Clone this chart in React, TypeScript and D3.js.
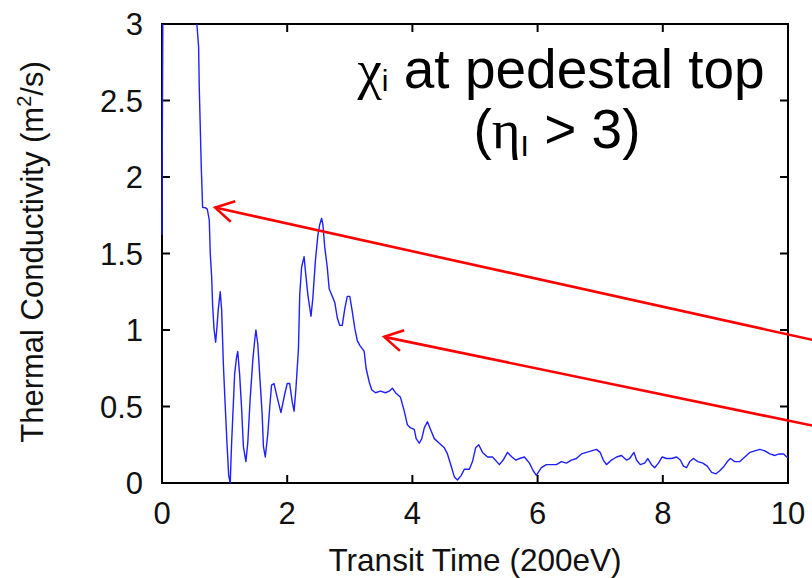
import React from 'react';
import * as d3 from 'd3';

const timeValues = [
  0.0, 0.003, 0.02, 0.3, 0.54, 0.557, 0.585, 0.595, 0.611, 0.627, 0.649, 0.69, 0.723, 0.755, 0.771, 0.793, 0.809, 0.83, 0.857, 0.878, 0.9,
  0.93, 0.953, 0.98, 1.006, 1.038, 1.065, 1.09, 1.11, 1.14, 1.16, 1.19, 1.21, 1.24, 1.27, 1.3, 1.34, 1.37, 1.41, 1.45, 1.48,
  1.5, 1.53, 1.56, 1.6, 1.62, 1.65, 1.69, 1.72, 1.75, 1.79, 1.84, 1.9, 1.96, 2.0, 2.04, 2.08, 2.11, 2.14, 2.18, 2.2,
  2.23, 2.27, 2.29, 2.33, 2.38, 2.41, 2.45, 2.49, 2.52, 2.55, 2.57, 2.6, 2.64, 2.67, 2.72, 2.76, 2.8, 2.84, 2.88, 2.92,
  2.96, 3.0, 3.04, 3.08, 3.12, 3.16, 3.23, 3.26, 3.31, 3.35, 3.41, 3.49, 3.57, 3.63, 3.68, 3.73, 3.81, 3.87, 3.92, 3.97,
  4.03, 4.06, 4.11, 4.15, 4.19, 4.24, 4.29, 4.35, 4.43, 4.51, 4.56, 4.62, 4.67, 4.72, 4.78, 4.83, 4.91, 4.96, 5.01, 5.06,
  5.12, 5.2, 5.28, 5.39, 5.45, 5.52, 5.59, 5.65, 5.71, 5.79, 5.87, 5.93, 5.98, 6.06, 6.14, 6.22, 6.3, 6.38, 6.46, 6.54,
  6.62, 6.7, 6.78, 6.86, 6.94, 7.0, 7.05, 7.1, 7.18, 7.26, 7.34, 7.42, 7.47, 7.54, 7.58, 7.64, 7.71, 7.76, 7.82, 7.87,
  7.93, 7.99, 8.06, 8.14, 8.22, 8.28, 8.33, 8.38, 8.43, 8.49, 8.56, 8.64, 8.71, 8.78, 8.85, 8.91, 8.98, 9.03, 9.08, 9.15,
  9.23, 9.31, 9.39, 9.47, 9.55, 9.63, 9.71, 9.79, 9.86, 9.93, 9.98, 10.0
];

const chiValues = [
  1.62, 2.07, 3.6, 4.5, 3.2, 3.0, 2.85, 2.59, 2.33, 2.07, 1.8, 1.8, 1.79, 1.72, 1.5, 1.35, 1.16, 1.01, 0.92, 1.02, 1.14,
  1.25, 1.13, 0.78, 0.54, 0.26, 0.05, 0.0, 0.24, 0.52, 0.71, 0.82, 0.86, 0.71, 0.5, 0.24, 0.14, 0.26, 0.56, 0.8, 0.93,
  1.0, 0.91, 0.71, 0.45, 0.24, 0.17, 0.32, 0.49, 0.64, 0.65, 0.56, 0.46, 0.58, 0.65, 0.65, 0.53, 0.47, 0.62, 0.88, 1.23,
  1.41, 1.48, 1.39, 1.23, 1.09, 1.21, 1.45, 1.62, 1.69, 1.73, 1.69, 1.54, 1.41, 1.27, 1.22, 1.18, 1.08, 1.03, 1.03, 1.14,
  1.22, 1.22, 1.12, 1.01, 0.93, 0.9, 0.86, 0.75, 0.66, 0.61, 0.59, 0.6, 0.59, 0.6, 0.62, 0.59, 0.56, 0.47, 0.38, 0.36,
  0.35, 0.29, 0.26, 0.29, 0.36, 0.4, 0.35, 0.29, 0.26, 0.23, 0.19, 0.11, 0.04, 0.02, 0.05, 0.09, 0.09, 0.14, 0.23, 0.25,
  0.2, 0.17, 0.17, 0.12, 0.15, 0.2, 0.17, 0.15, 0.16, 0.17, 0.13, 0.08, 0.05, 0.1, 0.12, 0.12, 0.12, 0.14, 0.13, 0.15,
  0.16, 0.19, 0.2, 0.21, 0.22, 0.2, 0.15, 0.12, 0.15, 0.17, 0.18, 0.15, 0.16, 0.2, 0.15, 0.12, 0.13, 0.16, 0.12, 0.1,
  0.13, 0.17, 0.16, 0.16, 0.17, 0.15, 0.11, 0.1, 0.14, 0.16, 0.14, 0.13, 0.11, 0.07, 0.06, 0.08, 0.11, 0.14, 0.16, 0.14,
  0.14, 0.17, 0.2, 0.21, 0.22, 0.21, 0.19, 0.18, 0.19, 0.19, 0.17, 0.17
];

const xTicks = [0, 2, 4, 6, 8, 10];
const xTickLabels = ['0', '2', '4', '6', '8', '10'];
const yTicks = [0, 0.5, 1, 1.5, 2, 2.5, 3];
const yTickLabels = ['0', '0.5', '1', '1.5', '2', '2.5', '3'];

// annotation arrows: tip (time, chi) and tail (time, chi)
const arrowTipT = [0.85, 3.55];
const arrowTipV = [1.8, 0.955];
const arrowTailT = [10.45, 10.45];
const arrowTailV = [0.93, 0.37];

const SANS = "'Liberation Sans', Arial, Helvetica, sans-serif";
const SERIF = "'Liberation Serif', 'Times New Roman', serif";

export default function App() {
  const W = 812;
  const H = 578;
  const left = 162, right = 788, top = 24, bottom = 483;
  const x = d3.scaleLinear().domain([0, 10]).range([left, right]);
  const y = d3.scaleLinear().domain([0, 3]).range([bottom, top]);

  const pts = timeValues.map((t, i) => [t, chiValues[i]] as [number, number]);
  const line = d3.line<[number, number]>().x(d => x(d[0])).y(d => y(d[1]));
  const tickLen = 8;

  const arrows = arrowTipT.map((t, i) => {
    const tx = x(t), ty = y(arrowTipV[i]);
    const ex = x(arrowTailT[i]), ey = y(arrowTailV[i]);
    const ang = Math.atan2(ey - ty, ex - tx);
    const L = 21, a = Math.PI / 6;
    const b1 = [tx + L * Math.cos(ang - a), ty + L * Math.sin(ang - a)];
    const b2 = [tx + L * Math.cos(ang + a), ty + L * Math.sin(ang + a)];
    return { tx, ty, ex, ey, b1, b2 };
  });

  return (
    <svg width={W} height={H} style={{ position: 'fixed', left: 0, top: 0, background: '#fff' }}
      fontFamily={SANS}>
      <defs>
        <clipPath id="plotClip">
          <rect x={left - 1} y={top} width={right - left + 1} height={bottom - top + 1} />
        </clipPath>
      </defs>
      <rect x={0} y={0} width={W} height={H} fill="#fff" />

      {/* frame */}
      <rect x={left} y={top} width={right - left} height={bottom - top} fill="none" stroke="#000" strokeWidth={2} />

      {/* ticks */}
      {xTicks.slice(1, -1).map(t => (
        <g key={'xt' + t}>
          <line x1={x(t)} x2={x(t)} y1={bottom} y2={bottom - tickLen} stroke="#000" strokeWidth={2} />
          <line x1={x(t)} x2={x(t)} y1={top} y2={top + tickLen} stroke="#000" strokeWidth={2} />
        </g>
      ))}
      {yTicks.slice(1, -1).map(v => (
        <g key={'yt' + v}>
          <line x1={left} x2={left + tickLen} y1={y(v)} y2={y(v)} stroke="#000" strokeWidth={2} />
          <line x1={right} x2={right - tickLen} y1={y(v)} y2={y(v)} stroke="#000" strokeWidth={2} />
        </g>
      ))}

      {/* curve */}
      <path d={line(pts) || ''} fill="none" stroke="#1f1fff" strokeWidth={1.4}
        strokeLinejoin="round" clipPath="url(#plotClip)" />

      {/* tick labels */}
      {xTicks.map((t, i) => (
        <text key={'xl' + t} x={x(t)} y={524} textAnchor="middle" fontSize={31} fill="#111">{xTickLabels[i]}</text>
      ))}
      {yTicks.map((v, i) => (
        <text key={'yl' + v} x={143} y={y(v) + 11} textAnchor="end" fontSize={31} fill="#111">{yTickLabels[i]}</text>
      ))}

      {/* axis titles */}
      <text x={475} y={571} textAnchor="middle" fontSize={31.5} fill="#111">Transit Time (200eV)</text>
      <text transform={`translate(43, 252) rotate(-90)`} textAnchor="middle" fontSize={31} fill="#111">
        Thermal Conductivity (m<tspan fontSize={20} dy={-12}>2</tspan><tspan dy={12}>/s)</tspan>
      </text>

      {/* arrows */}
      {arrows.map((a, i) => (
        <g key={'ar' + i} stroke="#ff0000" strokeWidth={2.6} fill="none" strokeLinecap="butt">
          <line x1={a.tx} y1={a.ty} x2={a.ex} y2={a.ey} />
          <polyline points={`${a.b1[0]},${a.b1[1]} ${a.tx},${a.ty} ${a.b2[0]},${a.b2[1]}`} />
        </g>
      ))}

      {/* title */}
      <text x={561} y={88} textAnchor="middle" fontSize={55} fill="#000">
        <tspan fontFamily={SERIF}>χ</tspan>
        <tspan fontSize={30} dy={3}>i</tspan>
        <tspan dy={-3}> at pedestal top</tspan>
      </text>
      <text x={557} y={148} textAnchor="middle" fontSize={55} fill="#000">
        (<tspan fontFamily={SERIF}>η</tspan>
        <tspan fontSize={30} dy={8}>I</tspan>
        <tspan dy={-8}> &gt; 3)</tspan>
      </text>
    </svg>
  );
}
